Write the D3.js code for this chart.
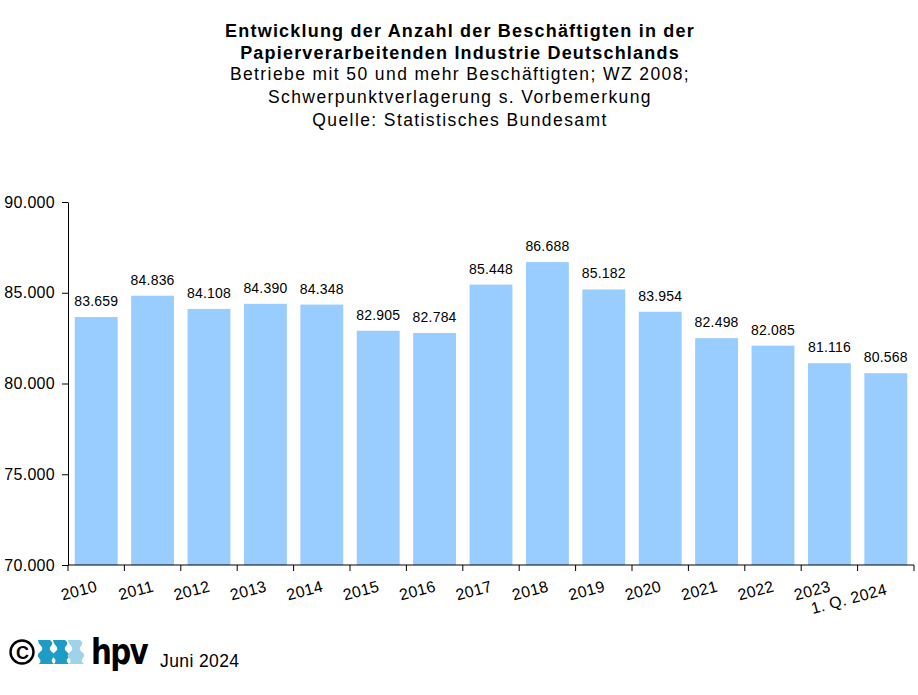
<!DOCTYPE html>
<html lang="de">
<head>
<meta charset="UTF-8">
<title>Beschäftigte Papierverarbeitende Industrie</title>
<script src="https://d3js.org/d3.v7.min.js"></script>
<style>
  body { margin: 0; background: #fff; }
  svg { font-family: "Liberation Sans", Arial, sans-serif; }
  .title { font-size: 18px; font-weight: bold; letter-spacing: 1.2px; }
  .sub { font-size: 17.5px; letter-spacing: 1.4px; }
  .val { font-size: 14px; letter-spacing: 0.2px; }
  .axis text { font-size: 16px; fill: #000; letter-spacing: 0.3px; }
  .axis path, .axis line { stroke: #000; }
</style>
</head>
<body>
<svg width="918" height="695"></svg>
<script>
  // data
  const years = ["2010", "2011", "2012", "2013", "2014", "2015", "2016", "2017",
                 "2018", "2019", "2020", "2021", "2022", "2023", "1. Q. 2024"];
  const employees = [83659, 84836, 84108, 84390, 84348, 82905, 82784, 85448,
                     86688, 85182, 83954, 82498, 82085, 81116, 80568];
  const yTicks = [70000, 75000, 80000, 85000, 90000];
  const titleLines = ["Entwicklung der Anzahl der Beschäftigten in der",
                      "Papierverarbeitenden Industrie Deutschlands"];
  const subLines = ["Betriebe mit 50 und mehr Beschäftigten; WZ 2008;",
                    "Schwerpunktverlagerung s. Vorbemerkung",
                    "Quelle: Statistisches Bundesamt"];

  const svg = d3.select("svg");
  const fmt = d3.formatLocale({decimal: ",", thousands: ".", grouping: [3], currency: ["", "€"]}).format(",d");

  const x = d3.scaleBand().domain(years).range([68, 914]).paddingInner(0.24).paddingOuter(0.12);
  const y = d3.scaleLinear().domain([70000, 90000]).range([565, 202]);

  // titles
  svg.append("g").selectAll("text").data(titleLines).join("text")
    .attr("class", "title").attr("x", 460).attr("y", (d, i) => 37 + i * 22)
    .attr("text-anchor", "middle").text(d => d);
  svg.append("g").selectAll("text").data(subLines).join("text")
    .attr("class", "sub").attr("x", 460).attr("y", (d, i) => 80 + i * 23)
    .attr("text-anchor", "middle").text(d => d);

  // bars
  svg.append("g").selectAll("rect").data(employees).join("rect")
    .attr("x", (d, i) => x(years[i]))
    .attr("width", x.bandwidth())
    .attr("y", d => y(d))
    .attr("height", d => y(70000) - y(d))
    .attr("fill", "#99ccff");

  svg.append("g").selectAll("text").data(employees).join("text")
    .attr("class", "val")
    .attr("x", (d, i) => x(years[i]) + x.bandwidth() / 2)
    .attr("y", d => y(d) - 11)
    .attr("text-anchor", "middle")
    .text(d => fmt(d));

  // y axis
  const yAxis = svg.append("g").attr("class", "axis").attr("transform", "translate(68,0)")
    .call(d3.axisLeft(y).tickValues(yTicks).tickFormat(fmt).tickSize(6).tickSizeOuter(0));
  yAxis.selectAll("text").attr("dx", "-0.25em");

  // x axis with ticks on category boundaries
  const xg = svg.append("g").attr("class", "axis");
  xg.append("line").attr("x1", 68).attr("x2", 914).attr("y1", y(70000)).attr("y2", y(70000)).attr("stroke", "#000");
  const step = x.step();
  const bounds = d3.range(years.length + 1).map(i => x(years[0]) - x.paddingOuter() * step + i * step);
  xg.selectAll("line.tk").data(bounds).join("line").attr("class", "tk")
    .attr("x1", d => d).attr("x2", d => d).attr("y1", y(70000)).attr("y2", y(70000) + 6)
    .attr("stroke", "#000");
  xg.selectAll("text").data(years).join("text")
    .attr("text-anchor", "end")
    .attr("transform", (d, i) => {
      const cx = x(d) + x.bandwidth() / 2 + 2;
      const cy = i === years.length - 1 ? 594 : 591;
      return `translate(${cx},${cy}) rotate(-15)`;
    })
    .text(d => d);

  // footer logo
  const logo = svg.append("g");
  logo.append("circle").attr("cx", 22).attr("cy", 652).attr("r", 11.5)
    .attr("fill", "none").attr("stroke", "#000").attr("stroke-width", 2.4);
  logo.append("text").attr("x", 22.5).attr("y", 658.5).attr("text-anchor", "middle")
    .attr("font-size", "18px").attr("font-weight", "bold").text("C");
  const waveCols = ["#1f9cc6", "#1f9cc6", "#9fd3ea"];
  waveCols.forEach((c, i) => {
    const x0 = 38 + i * 15;
    const p = `M${x0},640 L${x0 + 12},640 q4,3 1,6 q-3,3 1,6 q4,3 1,6 q-3,3 1,6 L${x0 + 1},664 q3,-3 0,-6 q-3,-3 1,-6 q4,-3 1,-6 q-3,-3 -3,-6 Z`;
    logo.append("path").attr("d", p).attr("fill", c);
  });
  logo.append("text").attr("transform", "translate(91,664) scale(0.84,1)")
    .attr("font-size", "35px").attr("font-weight", "900").attr("letter-spacing", "-2")
    .attr("font-family", "'DejaVu Sans', sans-serif").text("hpv");
  logo.append("text").attr("x", 160).attr("y", 667).attr("font-size", "17.5px")
    .attr("letter-spacing", "0.4px").text("Juni 2024");
</script>
</body>
</html>
